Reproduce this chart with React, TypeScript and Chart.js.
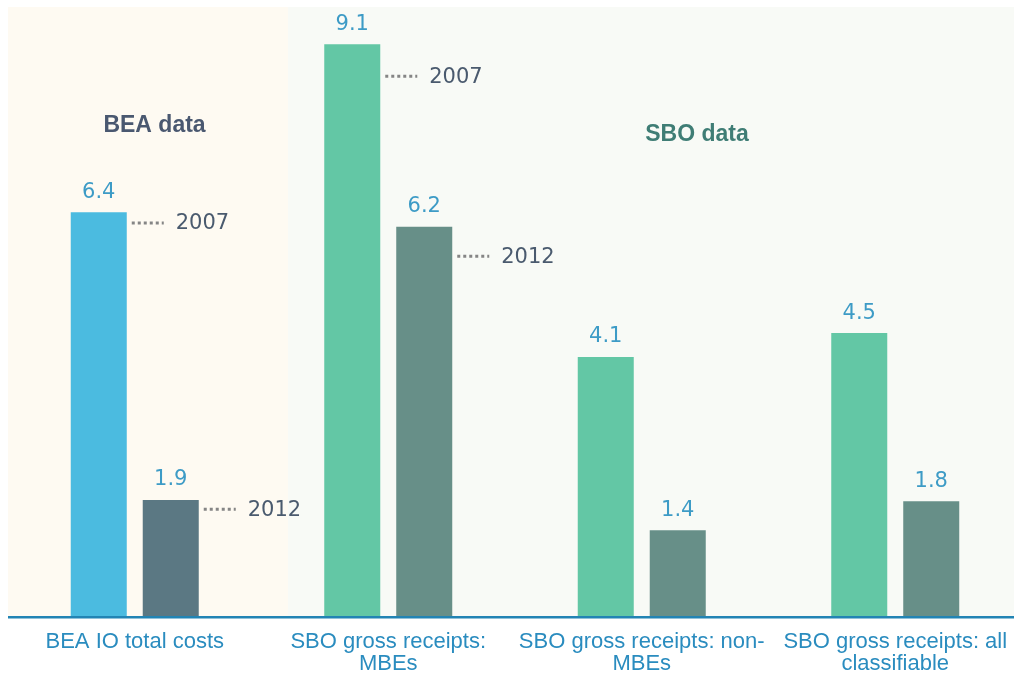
import React, { useEffect, useRef } from "react";
import { Chart, registerables } from "chart.js";

Chart.register(...registerables);

// ---- data ----
const categories: string[][] = [
  ["BEA IO total costs"],
  ["SBO gross receipts:", "MBEs"],
  ["SBO gross receipts: non-", "MBEs"],
  ["SBO gross receipts: all", "classifiable"],
];
const seriesNames = ["2007", "2012"];
const values2007 = [6.43, 9.1, 4.13, 4.51];
const values2012 = [1.86, 6.2, 1.38, 1.84];
const colors2007 = ["#4bbbe0", "#63c7a5", "#63c7a5", "#63c7a5"];
const colors2012 = ["#5b7883", "#678f88", "#678f88", "#678f88"];
const yMax = 9.69;
// boundary between the BEA panel and the SBO panel, in category units
const panelSplit = 0.605;
const groupHeaders = [
  { text: "BEA data", x: 0.078, y: 7.8, color: "#4a5870" },
  { text: "SBO data", x: 2.218, y: 7.67, color: "#3f7d75" },
];
// series call-outs: which bar, and the value level where the call-out sits
const calloutDataset = [0, 1, 0, 1];
const calloutIndex = [0, 0, 1, 1];
const calloutLevel = [6.26, 1.71, 8.59, 5.73];

const VALUE_FONT = "21px 'DejaVu Sans', sans-serif";

const decorPlugin = {
  id: "decor",
  beforeDraw(chart: any) {
    const { ctx, chartArea: a, scales } = chart;
    const split = scales.x.getPixelForValue(panelSplit);
    ctx.save();
    ctx.fillStyle = "#fefaf2";
    ctx.fillRect(a.left, 0, split - a.left, a.bottom);
    ctx.fillStyle = "#f8faf6";
    ctx.fillRect(split, 0, a.right - split, a.bottom);
    ctx.restore();
  },
  afterDatasetsDraw(chart: any) {
    const { ctx, scales } = chart;
    ctx.save();
    // value labels
    ctx.font = VALUE_FONT;
    ctx.fillStyle = "#3d9bc6";
    ctx.textAlign = "center";
    ctx.textBaseline = "middle";
    chart.data.datasets.forEach((ds: any, di: number) => {
      const meta = chart.getDatasetMeta(di);
      meta.data.forEach((bar: any, i: number) => {
        ctx.fillText(Number(ds.data[i]).toFixed(1), bar.x, bar.y - 20);
      });
    });
    // call-outs
    for (let k = 0; k < calloutLevel.length; k++) {
      const bar: any = chart.getDatasetMeta(calloutDataset[k]).data[calloutIndex[k]];
      const right = bar.x + bar.width / 2;
      const y = scales.y.getPixelForValue(calloutLevel[k]);
      ctx.save();
      ctx.strokeStyle = "#858585";
      ctx.lineWidth = 3;
      ctx.setLineDash([3, 3]);
      ctx.beginPath();
      ctx.moveTo(right + 5, y);
      ctx.lineTo(right + 37, y);
      ctx.stroke();
      ctx.restore();
      ctx.font = VALUE_FONT;
      ctx.fillStyle = "#4a5a6e";
      ctx.textAlign = "left";
      ctx.textBaseline = "middle";
      ctx.fillText(seriesNames[calloutDataset[k]], right + 49, y + 1);
    }
    // group headers
    ctx.font = "bold 23px 'Liberation Sans', Arial, sans-serif";
    ctx.textAlign = "center";
    ctx.textBaseline = "middle";
    groupHeaders.forEach((h) => {
      ctx.fillStyle = h.color;
      ctx.fillText(h.text, scales.x.getPixelForValue(h.x), scales.y.getPixelForValue(h.y));
    });
    ctx.restore();
  },
};

export default function App() {
  const ref = useRef<HTMLCanvasElement | null>(null);
  useEffect(() => {
    if (!ref.current) return;
    const chart = new Chart(ref.current, {
      type: "bar",
      data: {
        labels: categories as any,
        datasets: [
          {
            label: seriesNames[0],
            data: values2007,
            backgroundColor: colors2007,
            borderWidth: 0,
            categoryPercentage: 0.568,
            barPercentage: 0.778,
          },
          {
            label: seriesNames[1],
            data: values2012,
            backgroundColor: colors2012,
            borderWidth: 0,
            categoryPercentage: 0.568,
            barPercentage: 0.778,
          },
        ],
      },
      options: {
        animation: false,
        responsive: true,
        maintainAspectRatio: false,
        layout: { padding: 0 },
        plugins: { legend: { display: false }, tooltip: { enabled: false } },
        scales: {
          x: {
            grid: { display: false, drawTicks: false },
            border: { display: true, color: "#2284b4", width: 2.5, z: 1 } as any,
            ticks: {
              color: "#2a8cbf",
              font: { family: "'Liberation Sans', Arial, sans-serif", size: 22, lineHeight: 1.0 },
              padding: 14,
              maxRotation: 0,
              autoSkip: false,
            },
            afterFit: (s: any) => {
              s.height = 56;
            },
          },
          y: { display: false, min: 0, max: yMax },
        },
      },
      plugins: [decorPlugin],
    });
    return () => chart.destroy();
  }, []);
  return (
    <div style={{ position: "fixed", left: 8, top: 7, width: 1006, height: 666, overflow: "hidden" }}>
      <div style={{ position: "relative", width: 1014, height: 666 }}>
        <canvas ref={ref} />
      </div>
    </div>
  );
}
